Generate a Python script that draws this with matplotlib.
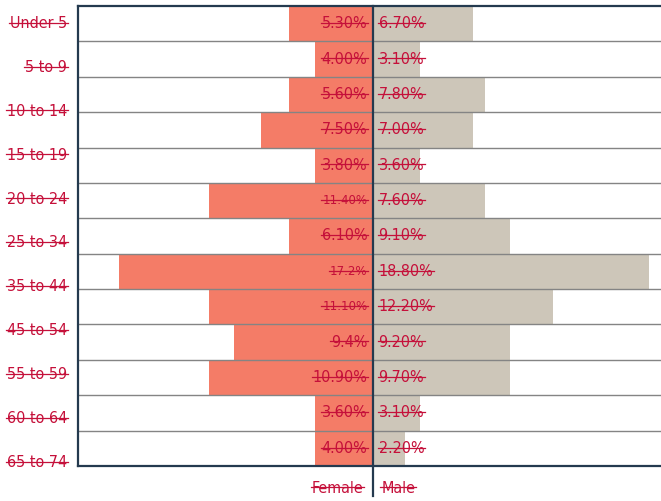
import matplotlib
matplotlib.use("Agg")
import matplotlib.pyplot as plt
from matplotlib import font_manager
from matplotlib.lines import Line2D
import numpy as np

ages = ["Under 5", "5 to 9", "10 to 14", "15 to 19", "20 to 24", "25 to 34",
        "35 to 44", "45 to 54", "55 to 59", "60 to 64", "65 to 74"]
female_pct = [5.7, 3.9, 5.7, 7.6, 3.9, 11.1, 5.7, 17.2, 11.1, 9.4, 11.1, 3.9, 3.9]
male_pct = [6.8, 3.2, 7.6, 6.8, 3.2, 7.6, 9.3, 18.7, 12.2, 9.3, 9.3, 3.2, 2.2]
female_labels = ["5.30%", "4.00%", "5.60%", "7.50%", "3.80%", "11.40%", "6.10%",
                 "17.2%", "11.10%", "9.4%", "10.90%", "3.60%", "4.00%"]
male_labels = ["6.70%", "3.10%", "7.80%", "7.00%", "3.60%", "7.60%", "9.10%",
               "18.80%", "12.20%", "9.20%", "9.70%", "3.10%", "2.20%"]

SALMON = "#f47c67"
BEIGE = "#cdc6b9"
CRIMSON = "#c5103a"
NAVY = "#243a4f"
GRID = "#848484"

# pick a narrow font if one is around
names = {(f.name, f.stretch) for f in font_manager.fontManager.ttflist}
if any(n == "DejaVu Sans" and s == "condensed" for n, s in names):
    FONT = dict(family="DejaVu Sans", stretch="condensed")
    SIZE = 11.5
elif any(n == "Liberation Sans Narrow" for n, s in names):
    FONT = dict(family="Liberation Sans Narrow")
    SIZE = 12.5
else:
    FONT = dict(family="DejaVu Sans")
    SIZE = 10.5

fig = plt.figure(figsize=(6.61, 5.01), dpi=100)
ax = fig.add_axes([78 / 661, 35 / 501, 590 / 661, 460 / 501])

y = np.arange(len(female_pct))
ax.barh(y, [-v for v in female_pct], height=1.0, color=SALMON, zorder=1)
ax.barh(y, male_pct, height=1.0, color=BEIGE, zorder=1)

for b in y[:-1] + 0.5:
    ax.axhline(b, color=GRID, lw=1.0, zorder=2)

ax.set_xlim(-20, 20)
ax.set_ylim(len(y) - 0.5, -0.5)

for side in ("top", "left", "bottom"):
    ax.spines[side].set_color(NAVY)
    ax.spines[side].set_linewidth(1.6)
ax.spines["right"].set_visible(False)
ax.axvline(0, ymin=-0.066, ymax=1, color=NAVY, lw=1.6, clip_on=False, zorder=4)

ax.set_xticks([])
ax.set_yticks(np.linspace(-0.05, 12.36, len(ages)))
ax.set_yticklabels(ages, color=CRIMSON, fontsize=SIZE, **FONT)
ax.tick_params(axis="y", length=0, pad=8)

texts = list(ax.get_yticklabels())
small = {5, 7, 8}
for i in y:
    fs = SIZE * 0.82 if i in small else SIZE
    texts.append(ax.annotate(female_labels[i], (0, i), xytext=(-4, 0),
                             textcoords="offset points", ha="right", va="center",
                             color=CRIMSON, fontsize=fs, zorder=5, **FONT))
    texts.append(ax.annotate(male_labels[i], (0, i), xytext=(4, 0),
                             textcoords="offset points", ha="left", va="center",
                             color=CRIMSON, fontsize=SIZE, zorder=5, **FONT))

for label, dx, ha in (("Female", -7, "right"), ("Male", 6, "left")):
    texts.append(ax.annotate(label, (0, -0.048), xycoords=("data", "axes fraction"),
                             xytext=(dx, 0), textcoords="offset points", ha=ha,
                             va="center", color=CRIMSON, fontsize=SIZE,
                             annotation_clip=False, **FONT))

# strike-through on every label
fig.canvas.draw()
renderer = fig.canvas.get_renderer()
W, H = fig.bbox.width, fig.bbox.height
for t in texts:
    bb = t.get_window_extent(renderer)
    _, _, d = renderer.get_text_width_height_descent("lp", t.get_fontproperties(), ismath=False)
    px = t.get_fontsize() * fig.dpi / 72
    ys = bb.y0 + d + 0.33 * px
    fig.add_artist(Line2D([(bb.x0 - 1) / W, (bb.x1 + 1) / W], [ys / H, ys / H],
                          transform=fig.transFigure, color=CRIMSON, lw=0.9, zorder=10))

fig.savefig("out.png", dpi=100, facecolor="white")
